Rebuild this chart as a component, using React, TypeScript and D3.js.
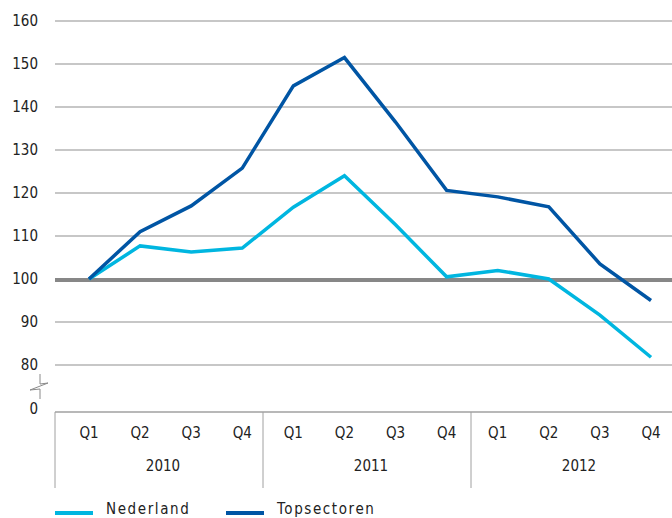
import React from "react";
import * as d3 from "d3";

const quarters = ["Q1", "Q2", "Q3", "Q4", "Q1", "Q2", "Q3", "Q4", "Q1", "Q2", "Q3", "Q4"];
const years = ["2010", "2011", "2012"];
const nederland = [100, 107.7, 106.3, 107.2, 116.7, 124, 112.6, 100.5, 102, 100, 91.6, 81.8];
const topsectoren = [100, 111, 117, 125.8, 144.9, 151.5, 136.5, 120.6, 119.1, 116.8, 103.5, 95];
const yTicks = [80, 90, 100, 110, 120, 130, 140, 150, 160];
const seriesNames = ["Nederland", "Topsectoren"];

const W = 672;
const H = 518;
const LIGHT = "#00b6e0";
const DARK = "#0055a4";
const FONT = "'DejaVu Sans Condensed', 'DejaVu Sans', sans-serif";

export default function App() {
  const x = d3.scalePoint<number>().domain(d3.range(12)).range([89, 651]);
  const yearX = d3.scaleBand<string>().domain(years).range([55, 679]);
  const y = d3.scaleLinear().domain([80, 160]).range([365, 21]);
  const zeroY = 412;
  const line = d3
    .line<number>()
    .x((_, i) => x(i) as number)
    .y((d) => y(d));

  return (
    <svg
      width={W}
      height={H}
      style={{ position: "fixed", left: 0, top: 0, background: "#fff" }}
      fontFamily={FONT}
    >
      {yTicks.map((t) => (
        <g key={t}>
          {t !== 100 && (
            <line x1={55} x2={W} y1={y(t)} y2={y(t)} stroke="#b4b4b4" strokeWidth={1.5} />
          )}
          <text x={38} y={y(t)} dy="0.35em" textAnchor="end" fontSize={15} fill="#222">
            {t}
          </text>
        </g>
      ))}
      <line x1={55} x2={W} y1={y(100) + 1} y2={y(100) + 1} stroke="#878787" strokeWidth={4} />
      <text x={38} y={zeroY} dy="0.1em" textAnchor="end" fontSize={15} fill="#222">
        0
      </text>
      <path
        d="M40,374 V384 L48,383 L30,390 L40,389 V399"
        fill="none"
        stroke="#8a8a8a"
        strokeWidth={1}
      />
      <line x1={55} x2={W} y1={zeroY} y2={zeroY} stroke="#a0a0a0" strokeWidth={1.5} />
      {years.map((yr) => (
        <g key={yr}>
          <line
            x1={yearX(yr)}
            x2={yearX(yr)}
            y1={zeroY}
            y2={488}
            stroke="#a0a0a0"
            strokeWidth={1}
          />
          <text
            x={(yearX(yr) as number) + yearX.bandwidth() / 2 + 4}
            y={466}
            dy="0.35em"
            textAnchor="middle"
            fontSize={15}
            fill="#222"
          >
            {yr}
          </text>
        </g>
      ))}
      {quarters.map((q, i) => (
        <text
          key={i}
          x={x(i)}
          y={433}
          dy="0.35em"
          textAnchor="middle"
          fontSize={15}
          fill="#222"
        >
          {q}
        </text>
      ))}
      <path d={line(nederland) || ""} fill="none" stroke={LIGHT} strokeWidth={3.5} strokeLinejoin="miter" />
      <path d={line(topsectoren) || ""} fill="none" stroke={DARK} strokeWidth={3.5} strokeLinejoin="miter" />
      {seriesNames.map((name, i) => {
        const lx = 55 + i * 171;
        return (
          <g key={name}>
            <line x1={lx} x2={lx + 38} y1={513} y2={513} stroke={i === 0 ? LIGHT : DARK} strokeWidth={4} />
            <text x={lx + 51} y={509} dy="0.35em" fontSize={15} fill="#222" letterSpacing={1.6}>
              {name}
            </text>
          </g>
        );
      })}
    </svg>
  );
}
